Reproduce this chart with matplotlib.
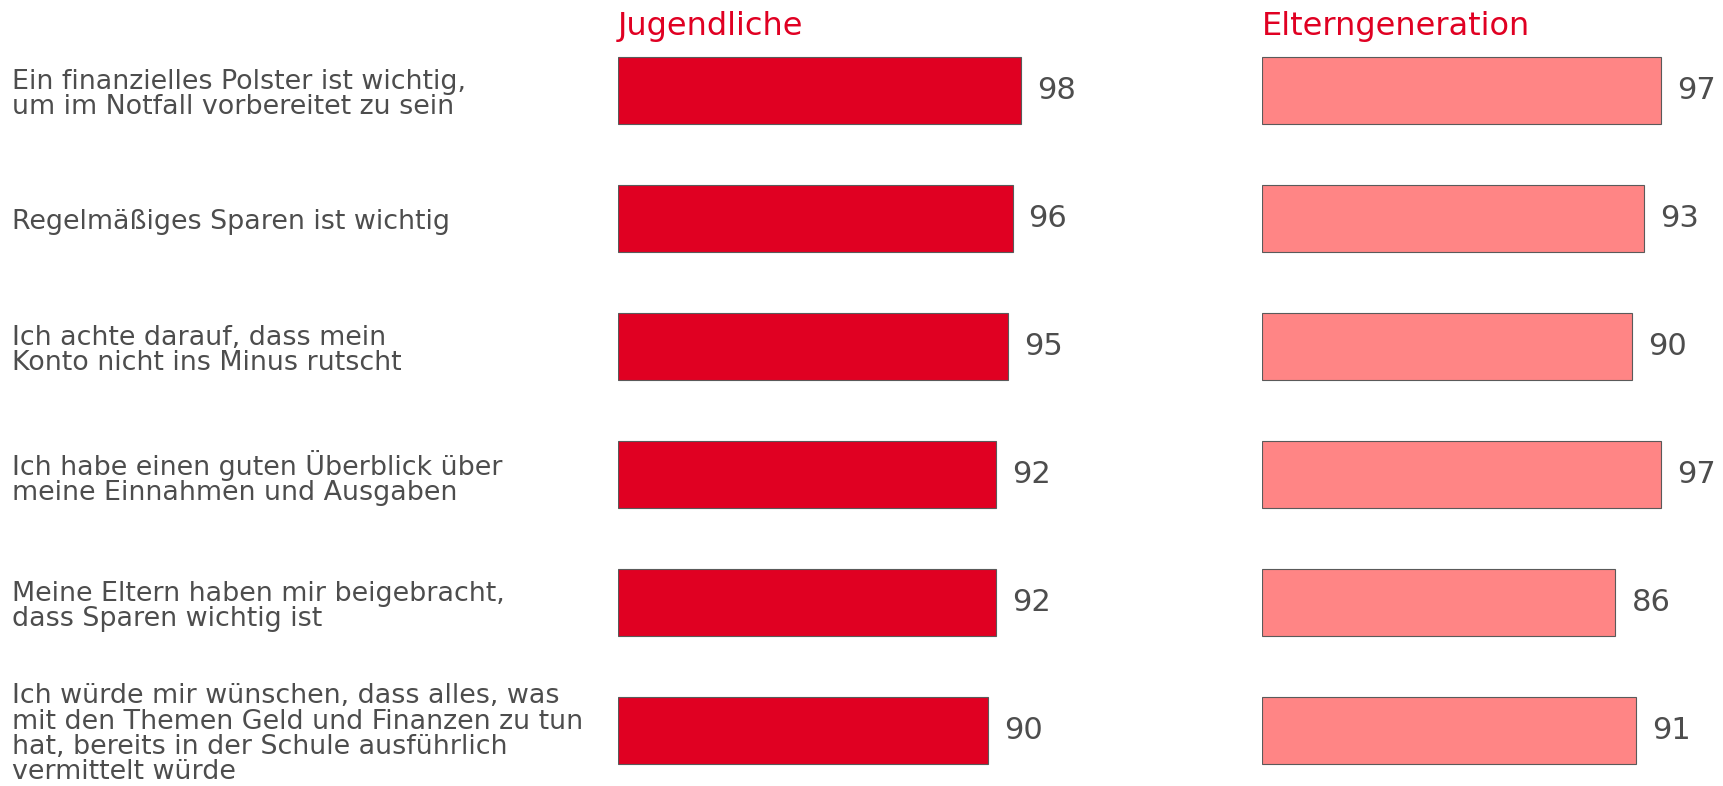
import matplotlib
matplotlib.use("Agg")
import matplotlib.pyplot as plt
from matplotlib.transforms import blended_transform_factory, offset_copy

# Data
statements = [
    "Ein finanzielles Polster ist wichtig,\num im Notfall vorbereitet zu sein",
    "Regelmäßiges Sparen ist wichtig",
    "Ich achte darauf, dass mein\nKonto nicht ins Minus rutscht",
    "Ich habe einen guten Überblick über\nmeine Einnahmen und Ausgaben",
    "Meine Eltern haben mir beigebracht,\ndass Sparen wichtig ist",
    "Ich würde mir wünschen, dass alles, was\nmit den Themen Geld und Finanzen zu tun\nhat, bereits in der Schule ausführlich\nvermittelt würde",
]
jugendliche = [98, 96, 95, 92, 92, 90]
eltern = [97, 93, 90, 97, 86, 91]
groups = ["Jugendliche", "Elterngeneration"]

red = "#E00022"
pink = "#FF8585"
text_gray = "#4D4D4D"
edge_gray = "#5A5A5A"

W, H = 1724, 786
fig = plt.figure(figsize=(W / 100, H / 100), dpi=100)
plt.rcParams["font.family"] = "DejaVu Sans"

rows = list(range(len(statements)))

ax_j = fig.add_axes([618 / W, 0, 411 / W, 1])
ax_e = fig.add_axes([1262 / W, 0, 411 / W, 1])

for ax, vals, color, title in [(ax_j, jugendliche, red, groups[0]),
                               (ax_e, eltern, pink, groups[1])]:
    ax.barh(rows, vals, height=0.525, color=color, edgecolor=edge_gray, linewidth=0.8)
    ax.set_xlim(0, 100)
    ax.set_ylim(5.434, -0.707)
    ax.axis("off")
    # value labels right of each bar
    lbl_tr = offset_copy(ax.transData, fig=fig, x=16, y=0, units="dots")
    for r, v in zip(rows, vals):
        ax.text(v, r, str(v), transform=lbl_tr, ha="left", va="center",
                fontsize=22, color=text_gray)
    ax.text(0, -0.434, title, ha="left", va="baseline", fontsize=23, color=red)

# Statement labels on the left
tr = blended_transform_factory(fig.transFigure, ax_j.transData)
for r, s in zip(rows, statements):
    ax_j.text(12 / W, r + 0.03, s, transform=tr, ha="left", va="center",
              fontsize=19.4, color=text_gray, linespacing=0.96, clip_on=False)

fig.savefig("out.png", dpi=100)
